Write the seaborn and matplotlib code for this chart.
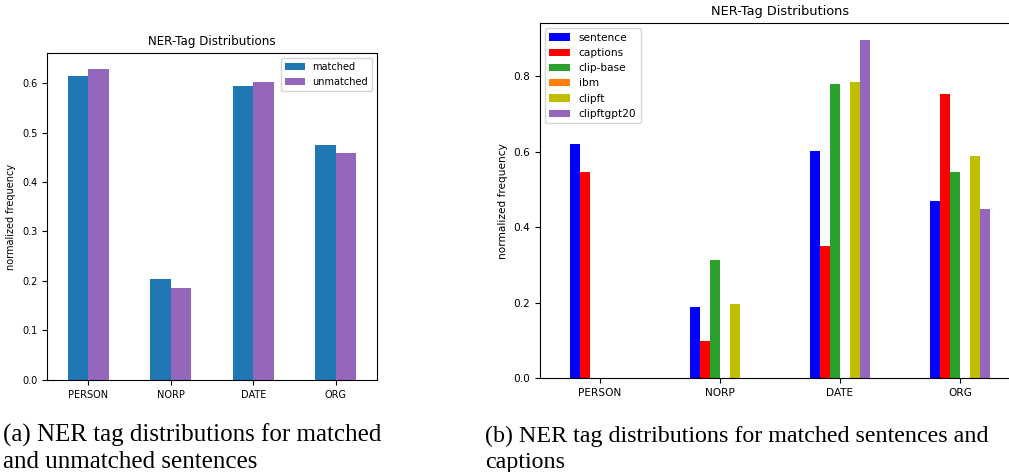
import pandas as pd
import seaborn as sns
import matplotlib.pyplot as plt

tags = ['PERSON', 'NORP', 'DATE', 'ORG']

# (a) matched vs unmatched sentences
matched = [0.615, 0.205, 0.595, 0.475]
unmatched = [0.628, 0.186, 0.602, 0.458]

# (b) sentences vs captions from different models
sentence = [0.619, 0.188, 0.602, 0.469]
captions = [0.547, 0.099, 0.351, 0.752]
clip_base = [0.0, 0.312, 0.779, 0.546]
ibm = [0.0, 0.0, 0.0, 0.0]
clipft = [0.0, 0.197, 0.785, 0.589]
clipftgpt20 = [0.0, 0.0, 0.895, 0.449]

caption_a = ['(a) NER tag distributions for matched', 'and unmatched sentences']
caption_b = ['(b) NER tag distributions for matched sentences and', 'captions']

df_a = pd.DataFrame({'tag': tags, 'matched': matched, 'unmatched': unmatched})
df_a = df_a.melt(id_vars='tag', var_name='set', value_name='freq')

df_b = pd.DataFrame({'tag': tags, 'sentence': sentence, 'captions': captions,
                     'clip-base': clip_base, 'ibm': ibm, 'clipft': clipft,
                     'clipftgpt20': clipftgpt20})
df_b = df_b.melt(id_vars='tag', var_name='set', value_name='freq')

pal_a = ['#1f77b4', '#9467bd']
pal_b = ['#0000ff', '#ff0000', '#2ca02c', '#ff7f0e', '#bfbf00', '#9467bd']

fig = plt.figure(figsize=(10.09, 4.72), dpi=100)
ax1 = fig.add_axes([0.0466, 0.195, 0.327, 0.692])
# right panel is cut off at the figure edge in the original
ax2 = fig.add_axes([0.535, 0.199, 0.476, 0.752])

sns.barplot(data=df_a, x='tag', y='freq', hue='set', palette=pal_a,
            width=0.5, gap=0, saturation=1, ax=ax1)
sns.barplot(data=df_b, x='tag', y='freq', hue='set', palette=pal_b,
            width=0.5, gap=0, saturation=1, ax=ax2)

for ax, top, fs in [(ax1, 0.66, 7), (ax2, 0.94, 7.6)]:
    ax.set_ylim(0, top)
    ax.set_xlim(-0.5, 3.5)
    ax.set_xlabel('')
    ax.set_ylabel('normalized frequency', fontsize=fs)
    ax.set_title('NER-Tag Distributions', fontsize=fs * 1.22)
    ax.tick_params(labelsize=fs)

ax1.legend(loc='upper right', fontsize=7)
ax2.legend(loc='upper left', fontsize=7.6)

# subfigure captions, one text per line
for x, lines, fs in [(0.003, caption_a, 18), (0.4807, caption_b, 17.3)]:
    for y, line in zip([0.0636, 0.0085], lines):
        fig.text(x, y, line, family='Liberation Serif', fontsize=fs, va='baseline')

fig.savefig('out.png', dpi=100)
